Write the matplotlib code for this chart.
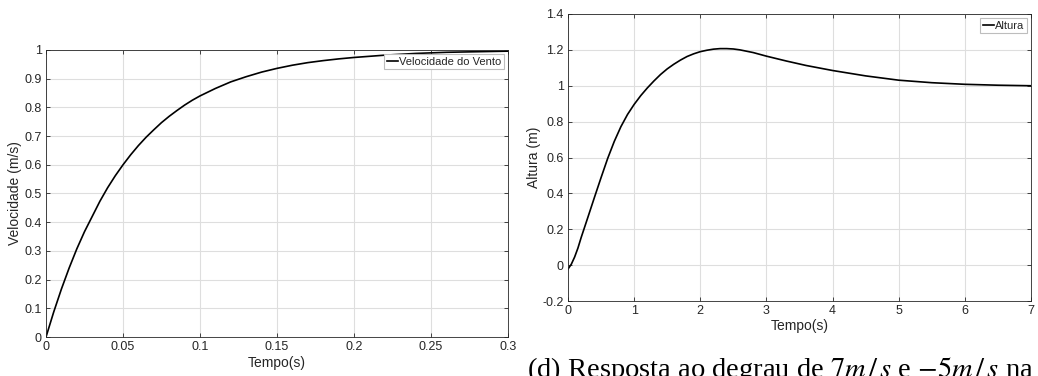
import matplotlib
matplotlib.use("Agg")
import matplotlib.pyplot as plt
from matplotlib.ticker import FormatStrFormatter, MultipleLocator

# dados
t_vento = [0, 0.005, 0.01, 0.015, 0.02, 0.025, 0.03, 0.035, 0.04, 0.045, 0.05, 0.055,
           0.06, 0.065, 0.07, 0.075, 0.08, 0.085, 0.09, 0.095, 0.10, 0.11, 0.12, 0.13,
           0.14, 0.15, 0.16, 0.17, 0.18, 0.19, 0.20, 0.22, 0.24, 0.26, 0.28, 0.30]
v_vento = [0, 0.087, 0.167, 0.24, 0.307, 0.367, 0.42, 0.473, 0.52, 0.562, 0.60, 0.635,
           0.667, 0.696, 0.722, 0.747, 0.769, 0.789, 0.808, 0.825, 0.84, 0.866, 0.889,
           0.907, 0.923, 0.936, 0.947, 0.956, 0.963, 0.969, 0.974, 0.982, 0.988,
           0.992, 0.994, 0.996]

t_altura = [0, 0.05, 0.1, 0.15, 0.2, 0.3, 0.4, 0.5, 0.6, 0.7, 0.8, 0.9, 1.0, 1.1,
            1.2, 1.3, 1.4, 1.5, 1.6, 1.7, 1.8, 1.9, 2.0, 2.1, 2.2, 2.3, 2.4, 2.5,
            2.6, 2.8, 3.0, 3.3, 3.6, 4.0, 4.5, 5.0, 5.5, 6.0, 6.5, 7.0]
h_altura = [-0.022, 0.005, 0.045, 0.095, 0.155, 0.266, 0.378, 0.488, 0.595, 0.69,
            0.772, 0.84, 0.896, 0.945, 0.988, 1.027, 1.063, 1.094, 1.12, 1.143, 1.163,
            1.178, 1.19, 1.198, 1.204, 1.207, 1.207, 1.205, 1.2, 1.185, 1.165, 1.138,
            1.113, 1.085, 1.055, 1.031, 1.017, 1.008, 1.003, 1.0]

plt.rcParams['font.family'] = ['Liberation Sans', 'DejaVu Sans']
plt.rcParams['axes.unicode_minus'] = False
plt.rcParams['mathtext.fontset'] = 'stix'

cinza = '#262626'

fig = plt.figure(figsize=(10.38, 3.76), dpi=100)
ax1 = fig.add_axes([46/1038, 39/376, 462/1038, 287/376])
ax2 = fig.add_axes([568/1038, 75/376, 463/1038, 287/376])


def estilo(ax):
    ax.grid(True, color='#dedede', linewidth=0.8)
    ax.set_axisbelow(True)
    for s in ax.spines.values():
        s.set_color(cinza)
        s.set_linewidth(0.6)
    ax.tick_params(direction='in', length=3, width=0.6, colors=cinza,
                   labelsize=9, top=True, right=True, pad=3)
    ax.yaxis.set_major_formatter(FormatStrFormatter('%g'))
    ax.xaxis.set_major_formatter(FormatStrFormatter('%g'))


ax1.plot(t_vento, v_vento, color='black', linewidth=1.2, label='Velocidade do Vento')
ax1.set_xlim(0, 0.3)
ax1.set_ylim(0, 1)
ax1.xaxis.set_major_locator(MultipleLocator(0.05))
ax1.yaxis.set_major_locator(MultipleLocator(0.1))
estilo(ax1)
ax1.set_xlabel('Tempo(s)', fontsize=10, color=cinza, labelpad=2)
ax1.set_ylabel('Velocidade (m/s)', fontsize=10, color=cinza, labelpad=2)

ax2.plot(t_altura, h_altura, color='black', linewidth=1.2, label='Altura')
ax2.set_xlim(0, 7)
ax2.set_ylim(-0.2, 1.4)
ax2.xaxis.set_major_locator(MultipleLocator(1))
ax2.yaxis.set_major_locator(MultipleLocator(0.2))
estilo(ax2)
ax2.set_xlabel('Tempo(s)', fontsize=10, color=cinza, labelpad=1)
ax2.set_ylabel('Altura (m)', fontsize=10, color=cinza, labelpad=1)

for ax in (ax1, ax2):
    leg = ax.legend(loc='upper right', fontsize=8, handlelength=1.0,
                    handletextpad=0.1, borderpad=0.25, borderaxespad=0.35,
                    fancybox=False, framealpha=1)
    leg.get_frame().set_edgecolor('#bdbdbd')
    leg.get_frame().set_linewidth(0.8)
    for txt in leg.get_texts():
        txt.set_color(cinza)

# legenda da figura (cortada na parte de baixo, como no original)
fig.text(527/1038, 1 - 355/376,
         r'(d) Resposta ao degrau de $7m\,/\,s$ e $-5m\,/\,s$ na',
         fontsize=20.5, family=['Liberation Serif', 'DejaVu Serif'], va='top', ha='left',
         color='black')

fig.savefig('out.png', dpi=100)
